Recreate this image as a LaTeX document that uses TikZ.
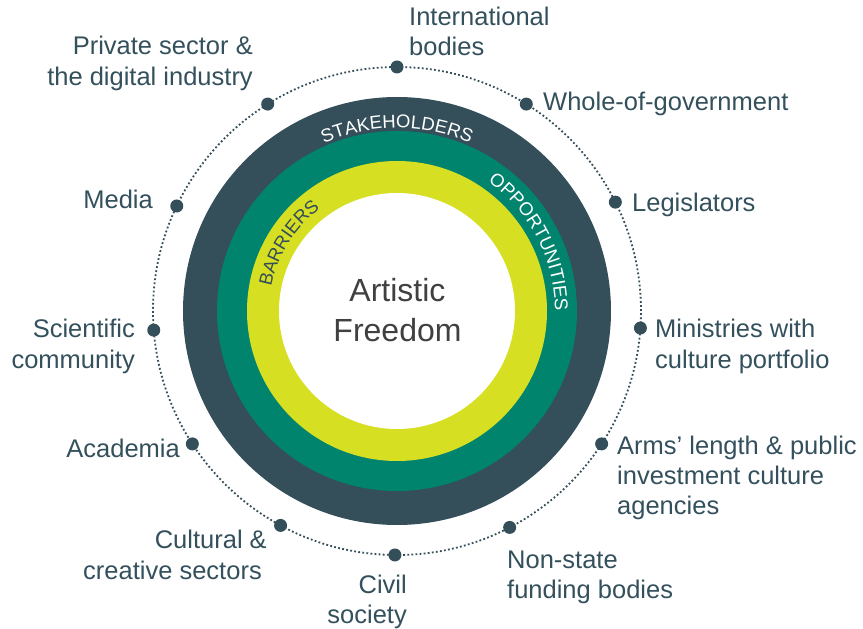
\documentclass[tikz,border=0pt]{standalone}
\usepackage{fontspec}
\setmainfont{Liberation Sans}
\usetikzlibrary{decorations.text}
\definecolor{slate}{HTML}{344E5A}
\definecolor{tealring}{HTML}{00846E}
\definecolor{limering}{HTML}{D6DF22}
\definecolor{labeltext}{HTML}{33505C}
\definecolor{centertext}{HTML}{404040}
\tikzset{
  lbl/.style={inner sep=0pt, text=labeltext, font=\fontsize{25.5}{30}\selectfont},
  lblw/.style={lbl, anchor=base west},
  lble/.style={lbl, anchor=base east},
  ctr/.style={inner sep=0pt, anchor=base, text=centertext, font=\fontsize{32}{40}\selectfont},
  ring/.style={circle, inner sep=0pt, draw=none, minimum size=#1},
  stdot/.style={circle, inner sep=0pt, minimum size=13pt, fill=slate},
  dotline/.style={draw=slate, line width=1.8pt, dash pattern=on 1.8pt off 2.3pt},
}
\begin{document}
\begin{tikzpicture}[x=1pt,y=1pt]
\useasboundingbox (-397,-318) rectangle (466,311);
\coordinate (c) at (0,0);
% rings
\node[ring=428pt, fill=slate] (r1) at (c) {};
\node[ring=360pt, fill=tealring] (r2) at (c) {};
\node[ring=300pt, fill=limering] (r3) at (c) {};
\node[ring=236pt, fill=white] (r4) at (c) {};
% curved texts
\path[decorate, decoration={text along path, text align=center,
  text={|\color{white}\fontsize{18.5}{20}\selectfont|STAKEHOLDERS}}]
  (c) ++(140:183) arc[start angle=140, end angle=40, radius=183];
\path[decorate, decoration={text along path, text align=center,
  text={|\color{white}\fontsize{18.5}{20}\selectfont|OPPORTUNITIES}}]
  (c) ++(80:158) arc[start angle=80, end angle=-25, radius=158];
\path[decorate, decoration={text along path, text align=center,
  text={|\color{slate}\fontsize{18.5}{20}\selectfont|BARRIERS}}]
  (c) ++(200:128) arc[start angle=200, end angle=96, radius=128];
% centre text
\node[ctr] (af1) at (0.5,9) {Artistic};
\node[ctr] (af2) at (0.5,-31) {Freedom};
% dotted orbit
\draw[dotline] (c) circle[radius=244];
% dots
\node[stdot] (dintl) at (90:244) {};
\node[stdot] (dwhole) at (58:244) {};
\node[stdot] (dlegis) at (26.5:244) {};
\node[stdot] (dmin) at (-4:244) {};
\node[stdot] (darms) at (-33:244) {};
\node[stdot] (dnon) at (-62.5:244) {};
\node[stdot] (dcivil) at (-90.5:244) {};
\node[stdot] (dcult) at (241.5:244) {};
\node[stdot] (dacad) at (213:244) {};
\node[stdot] (dsci) at (184.5:244) {};
\node[stdot] (dmedia) at (154.5:244) {};
\node[stdot] (dpriv) at (122:244) {};
% labels
\node[lblw] (intl1) at (12,285) {International};
\node[lblw] (intl2) at (12,255) {bodies};
\node[lblw] (whole) at (146,200) {Whole-of-government};
\node[lblw] (legis) at (235,99) {Legislators};
\node[lblw] (min1) at (258,-27) {Ministries with};
\node[lblw] (min2) at (258,-58) {culture portfolio};
\node[lblw] (arms1) at (220,-144) {Arms’ length \& public};
\node[lblw] (arms2) at (220,-174) {investment culture};
\node[lblw] (arms3) at (220,-204) {agencies};
\node[lblw] (non1) at (110,-257) {Non-state};
\node[lblw] (non2) at (110,-287) {funding bodies};
\node[lble] (civil1) at (10,-282) {Civil};
\node[lble] (civil2) at (10,-312) {society};
\node[lble] (cult1) at (-130,-237) {Cultural \&};
\node[lble] (cult2) at (-135,-268) {creative sectors};
\node[lble] (acad) at (-217,-147) {Academia};
\node[lble] (sci1) at (-262,-27) {Scientific};
\node[lble] (sci2) at (-262,-58) {community};
\node[lble] (media) at (-244,102) {Media};
\node[lble] (priv1) at (-144,256) {Private sector \&};
\node[lble] (priv2) at (-144,225) {the digital industry};
\end{tikzpicture}
\end{document}
